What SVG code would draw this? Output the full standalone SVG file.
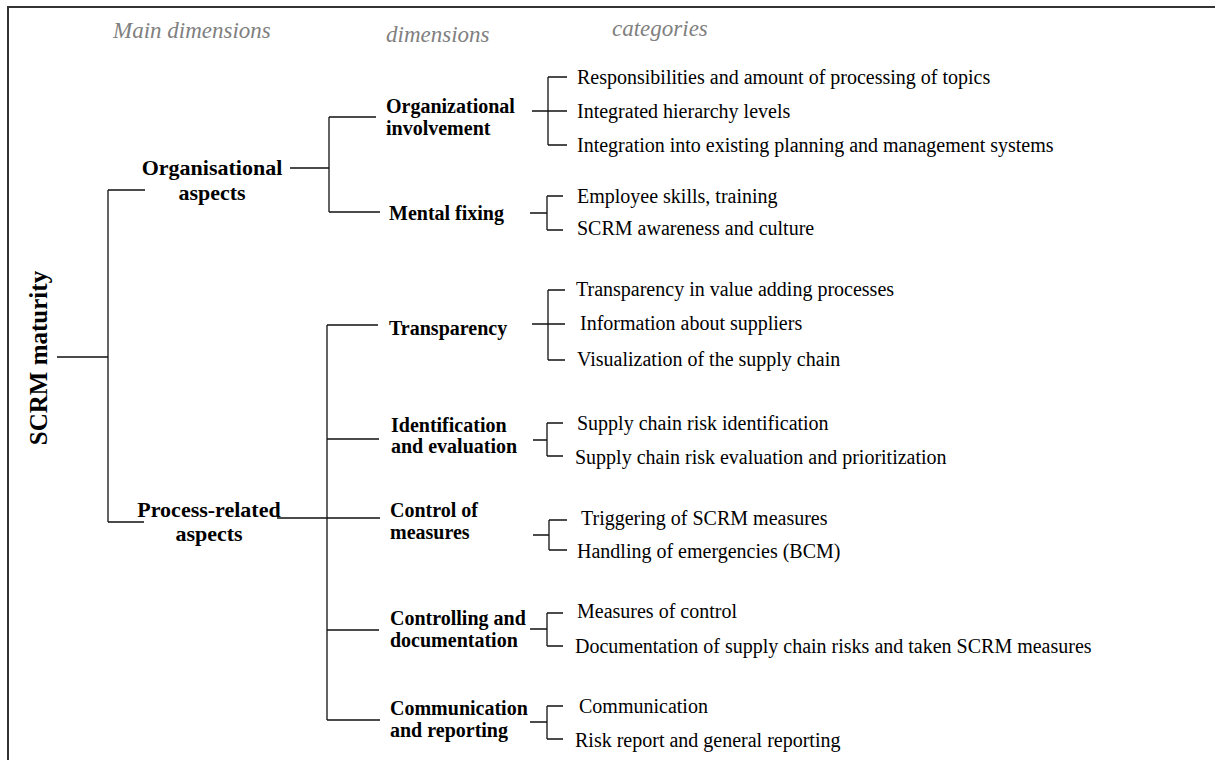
<svg xmlns="http://www.w3.org/2000/svg" width="1215" height="760" viewBox="0 0 1215 760">
<style>
.hdr{font-family:"Liberation Serif","Times New Roman",serif;font-style:italic;font-size:23px;fill:#808080}
.main{font-family:"Liberation Serif","Times New Roman",serif;font-weight:bold;font-size:22px;fill:#000}
.dim{font-family:"Liberation Serif","Times New Roman",serif;font-weight:bold;font-size:20px;fill:#000}
.cat{font-family:"Liberation Serif","Times New Roman",serif;font-size:20px;fill:#000}
.root{font-family:"Liberation Serif","Times New Roman",serif;font-weight:bold;font-size:25px;fill:#000}
.ln{fill:none;stroke:#111;stroke-width:1.3}
</style>
<rect width="1215" height="760" fill="#fff"/>
<path d="M8,761 V7 H1216" fill="none" stroke="#333" stroke-width="2"/>
<g id="headers">
<text class="hdr" x="113" y="38">Main dimensions</text>
<text class="hdr" x="386" y="42">dimensions</text>
<text class="hdr" x="612" y="36">categories</text>
</g>
<g id="connectors" class="ln">
<path d="M57,357 H108 M108,190 V522 M108,190 H145 M108,522 H144"/>
<path d="M290,168 H329 M329,117 V212 M329,117 H376 M329,212 H380"/>
<path d="M532,111 H567 M548,77 V145 M548,77 H567 M548,145 H567"/>
<path d="M530,213 H547 M547,196 V230 M547,196 H563 M547,230 H563"/>
<path d="M277,518 H380 M327,325 V720 M327,325 H378 M327,439 H379 M327,630 H379 M327,720 H380"/>
<path d="M532,324 H565 M548,290 V360 M548,290 H565 M548,360 H565"/>
<path d="M533,440 H547 M547,423 V456 M547,423 H563 M547,456 H563"/>
<path d="M533,535 H549 M549,520 V550 M549,520 H567 M549,550 H567"/>
<path d="M530,629 H547 M547,613 V646 M547,613 H563 M547,646 H563"/>
<path d="M530,722 H547 M547,706 V739 M547,706 H563 M547,739 H563"/>
</g>
<g id="root"><text class="root" transform="translate(47,358) rotate(-90)" text-anchor="middle">SCRM maturity</text></g>
<g id="main-org"><text class="main" text-anchor="middle"><tspan x="212" y="175">Organisational</tspan><tspan x="212" y="200">aspects</tspan></text></g>
<g id="main-proc"><text class="main" text-anchor="middle"><tspan x="209" y="517">Process-related</tspan><tspan x="209" y="541">aspects</tspan></text></g>
<g id="dim-orginv"><text class="dim"><tspan x="386" y="113">Organizational</tspan><tspan x="386" y="135">involvement</tspan></text></g>
<g id="dim-mental"><text class="dim" x="389" y="220">Mental fixing</text></g>
<g id="dim-transp"><text class="dim" x="389" y="335">Transparency</text></g>
<g id="dim-ident"><text class="dim"><tspan x="391" y="432">Identification</tspan><tspan x="391" y="453">and evaluation</tspan></text></g>
<g id="dim-control"><text class="dim"><tspan x="390" y="517">Control of</tspan><tspan x="390" y="539">measures</tspan></text></g>
<g id="dim-controlling"><text class="dim"><tspan x="390" y="625">Controlling and</tspan><tspan x="390" y="647">documentation</tspan></text></g>
<g id="dim-comm"><text class="dim"><tspan x="390" y="715">Communication</tspan><tspan x="390" y="737">and reporting</tspan></text></g>
<g id="cats-orginv">
<text class="cat" x="577" y="84">Responsibilities and amount of processing of topics</text>
<text class="cat" x="577" y="118">Integrated hierarchy levels</text>
<text class="cat" x="577" y="152">Integration into existing planning and management systems</text>
</g>
<g id="cats-mental">
<text class="cat" x="577" y="203">Employee skills, training</text>
<text class="cat" x="577" y="235">SCRM awareness and culture</text>
</g>
<g id="cats-transp">
<text class="cat" x="576" y="296">Transparency in value adding processes</text>
<text class="cat" x="580" y="330">Information about suppliers</text>
<text class="cat" x="577" y="366">Visualization of the supply chain</text>
</g>
<g id="cats-ident">
<text class="cat" x="577" y="430">Supply chain risk identification</text>
<text class="cat" x="575" y="464">Supply chain risk evaluation and prioritization</text>
</g>
<g id="cats-control">
<text class="cat" x="581" y="525">Triggering of SCRM measures</text>
<text class="cat" x="577" y="558">Handling of emergencies (BCM)</text>
</g>
<g id="cats-controlling">
<text class="cat" x="577" y="618">Measures of control</text>
<text class="cat" x="575" y="653">Documentation of supply chain risks and taken SCRM measures</text>
</g>
<g id="cats-comm">
<text class="cat" x="579" y="713">Communication</text>
<text class="cat" x="575" y="747">Risk report and general reporting</text>
</g>
</svg>
